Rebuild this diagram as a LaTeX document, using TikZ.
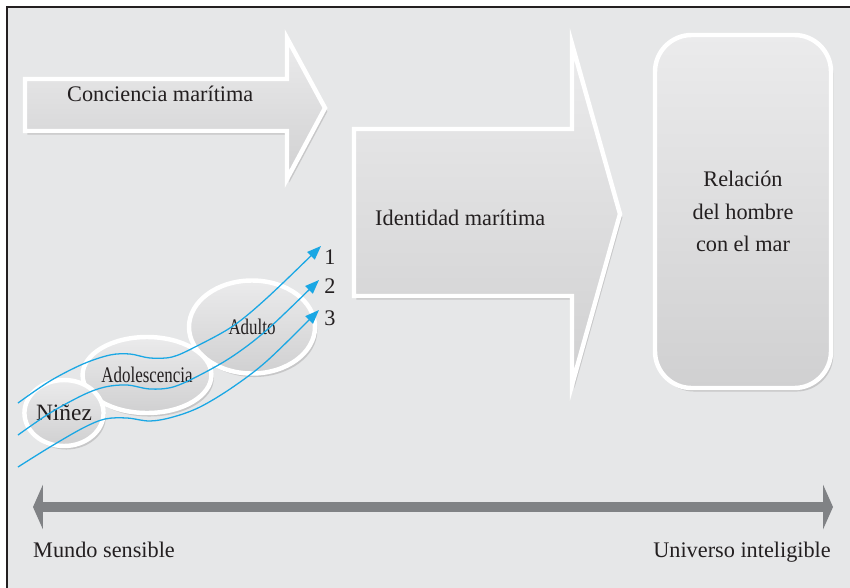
\documentclass[tikz,border=0pt]{standalone}
\usepackage{fontspec}
\usepackage{graphicx}
\setmainfont{Liberation Serif}
\usetikzlibrary{shapes.geometric,shadows,arrows.meta}

\definecolor{bgcol}{HTML}{E6E7E8}
\definecolor{framecol}{HTML}{231F20}
\definecolor{shapetop}{HTML}{EBEBEC}
\definecolor{shapebot}{HTML}{D0D0D1}
\definecolor{flowblue}{HTML}{1AA7E4}
\definecolor{barcol}{HTML}{808285}

\newcommand{\narrowtext}[1]{\scalebox{0.76}[1]{#1}}

\tikzset{
    panel/.style={draw=white, line width=3.8pt, top color=shapetop, bottom color=shapebot,
        drop shadow={opacity=0.3, shadow xshift=2pt, shadow yshift=-3pt}},
    stage/.style={ellipse, panel, inner sep=0pt, text=framecol, font=\fontsize{19}{23}\selectfont},
    txt/.style={inner sep=0pt, text=framecol, font=\fontsize{19}{27.6}\selectfont},
    flowline/.style={flowblue, line width=1.1pt, -{Triangle[length=12pt,width=9pt]}},
    scalebar/.style={barcol, line width=9.3pt, {Triangle[length=8.5pt,width=38pt]}-{Triangle[length=8.5pt,width=38pt]}}
}

\begin{document}
\begin{tikzpicture}[x=0.03cm, y=-0.03cm]
    \useasboundingbox (0,0) rectangle (850,587);
    % frame
    \fill[bgcol] (7,7) rectangle (860,600);
    \draw[framecol, line width=1.2pt] (7,600) -- (7,7) -- (860,7);

    % big arrows
    \draw[panel] (25,79) -- (287,79) -- (287,38) -- (325,108) -- (287,179) -- (287,131) -- (25,131) -- cycle;
    \node[txt, anchor=base west] (conciencia) at (67,101) {Conciencia marítima};
    \draw[panel] (354,129) -- (572,129) -- (572,44) -- (620,214) -- (572,385) -- (572,296) -- (354,296) -- cycle;
    \node[txt, anchor=base west] (identidad) at (375,225) {Identidad marítima};

    \node[panel, txt, rounded corners=1.1cm, minimum width=5.28cm, minimum height=10.59cm, align=center]
        (relacion) at (743,211.5) {Relación\\del hombre\\con el mar};

    % stages
    \node[stage, minimum width=3.78cm, minimum height=2.79cm] (adulto) at (252,327) {\narrowtext{Adulto}};
    \node[stage, minimum width=3.18cm, minimum height=2.28cm] (adolescencia) at (147,375) {\narrowtext{Adolescencia}};
    \node[stage, minimum width=2.22cm, minimum height=1.98cm, font=\fontsize{20}{24}\selectfont] (ninez) at (64,413) {Niñez};

    % paths 1 2 3
    \node[txt] (n1) at (330,257) {1};
    \node[txt] (n2) at (330,286) {2};
    \node[txt] (n3) at (330,318) {3};
    \coordinate (e1) at (321,246);
    \coordinate (e2) at (319,280);
    \coordinate (e3) at (319,310);
    \draw[flowline] plot[smooth, tension=0.55] coordinates {(18,403) (50,381) (83,364) (110,355) (130,354) (150,358) (172,357) (195,347) (233,326) (268,297) (e1)};
    \draw[flowline] plot[smooth, tension=0.55] coordinates {(18,435) (50,413) (83,395) (105,387) (127,385) (150,389) (173,387) (200,375) (233,356) (268,329) (e2)};
    \draw[flowline] plot[smooth, tension=0.55] coordinates {(18,467) (50,447) (83,428) (105,419) (127,418) (150,421) (173,417) (200,407) (233,387) (268,360) (e3)};

    % scale
    \coordinate (leftend) at (33,507);
    \coordinate (rightend) at (833,507);
    \draw[scalebar] (leftend) -- (rightend);
    \node[txt, anchor=base west] (mundo) at (33,557) {Mundo sensible};
    \node[txt, anchor=base east] (universo) at (831,557) {Universo inteligible};
\end{tikzpicture}
\end{document}
